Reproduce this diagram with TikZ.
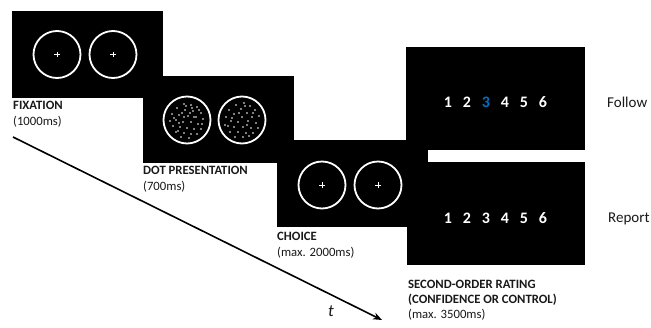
\documentclass[tikz,border=0pt]{standalone}
\usepackage{fontspec}
\setmainfont{Carlito}
\usetikzlibrary{arrows.meta}
\definecolor{ink}{RGB}{25,25,25}
\definecolor{pickblue}{RGB}{0,112,192}
\begin{document}
\begin{tikzpicture}[x=1pt,y=-1pt,
  panel/.style={fill=black,draw=none,inner sep=0,anchor=north west,minimum width=151pt,minimum height=87pt},
  ring/.style={circle,draw=white,line width=1.8pt,minimum size=47pt,inner sep=0},
  lab/.style={anchor=base west,inner sep=0,text=ink,font=\fontsize{12.7}{15}\selectfont\bfseries},
  sub/.style={anchor=base west,inner sep=0,text=ink,font=\fontsize{12.7}{15}\selectfont},
  digit/.style={anchor=base,inner sep=0,font=\fontsize{16}{19}\selectfont\bfseries},
  side/.style={anchor=base west,inner sep=0,text=ink,font=\fontsize{15}{18}\selectfont},
  cross/.style={white,line width=0.8pt}]
\useasboundingbox (0,0) rectangle (651,327);
\fill[white] (0,0) rectangle (651,327);
% panels
\node[panel] (p1) at (12,11) {};
\node[panel] (p2) at (143,76) {};
\node[panel] (p3) at (277,140) {};
\node[panel,minimum width=179pt,minimum height=103pt] (p4) at (406,47) {};
\node[panel,minimum width=178pt,minimum height=103pt] (p5) at (407,162) {};
% fixation
\node[ring] (c1a) at (57,54.5) {};
\node[ring] (c1b) at (113,54.5) {};
% dots
\node[ring] (c2a) at (187,120) {};
\node[ring] (c2b) at (242,120) {};
% choice
\node[ring] (c3a) at (322,185) {};
\node[ring] (c3b) at (378,185) {};
\foreach \c in {c1a,c1b,c3a,c3b}{
  \draw[cross] (\c) ++(-2.6,0) -- ++(5.2,0);
  \draw[cross] (\c) ++(0,-2.6) -- ++(0,5.2);
}
\foreach \px/\py in {-3/-16,4/-15,10/-13,-10/-12,-2/-10,6/-9,14/-7,-15/-6,-8/-5,1/-4,9/-3,16/-1,-17/1,-11/0,-4/2,4/2,11/4,-14/6,-7/7,0/8,7/9,14/9,-11/12,-3/13,4/14,10/14,-6/17,2/18,-13/-2,-5/-7,12/-10,-9/11,5/-12,-1/-14,15/4,3/-7,-3/-3,7/-3,-8/3}{
  \fill[white] (c2a) ++(\px,\py) circle (0.9);
}
\foreach \px/\py in {2/-17,-6/-15,8/-14,-13/-10,-1/-11,13/-10,5/-7,-8/-6,-16/-3,0/-3,10/-3,17/-4,-11/1,-4/2,6/1,14/3,-17/5,-8/7,1/7,9/8,16/8,-12/12,-4/12,4/13,11/13,-7/17,1/17,7/16,-3/-7,11/-7,-10/-2,3/-14,-14/6,5/5}{
  \fill[white] (c2b) ++(\px,\py) circle (0.9);
}
% rating digits
\foreach \d/\xx/\cc in {1/448/white,2/467/white,3/486/pickblue,4/505/white,5/524/white,6/543/white}{
  \node[digit,text=\cc] (f\d) at (\xx,107) {\d};
}
\foreach \d/\xx in {1/448,2/467,3/486,4/505,5/524,6/543}{
  \node[digit,text=white] (r\d) at (\xx,223) {\d};
}
\node[side] (follow) at (607,107) {Follow};
\node[side] (report) at (608,222) {Report};
% labels
\node[lab] (l1) at (13,109) {FIXATION};
\node[sub] (s1) at (13,125) {(1000ms)};
\node[lab] (l2) at (143,174) {DOT PRESENTATION};
\node[sub] (s2) at (143,190) {(700ms)};
\node[lab] (l3) at (277,240) {CHOICE};
\node[sub] (s3) at (277,256) {(max. 2000ms)};
\node[lab] (l4) at (408,288) {SECOND-ORDER RATING};
\node[lab] (l4b) at (408,303) {(CONFIDENCE OR CONTROL)};
\node[sub] (s4) at (408,318) {(max. 3500ms)};
% time arrow
\coordinate (ts) at (13,137);
\coordinate (te) at (382,320);
\draw[-{Stealth[length=9pt,width=7pt]},line width=1.6pt] (ts) -- (te);
\node[inner sep=0,text=ink,font=\fontsize{17}{20}\selectfont\itshape] (tl) at (331,311) {t};
\end{tikzpicture}
\end{document}
